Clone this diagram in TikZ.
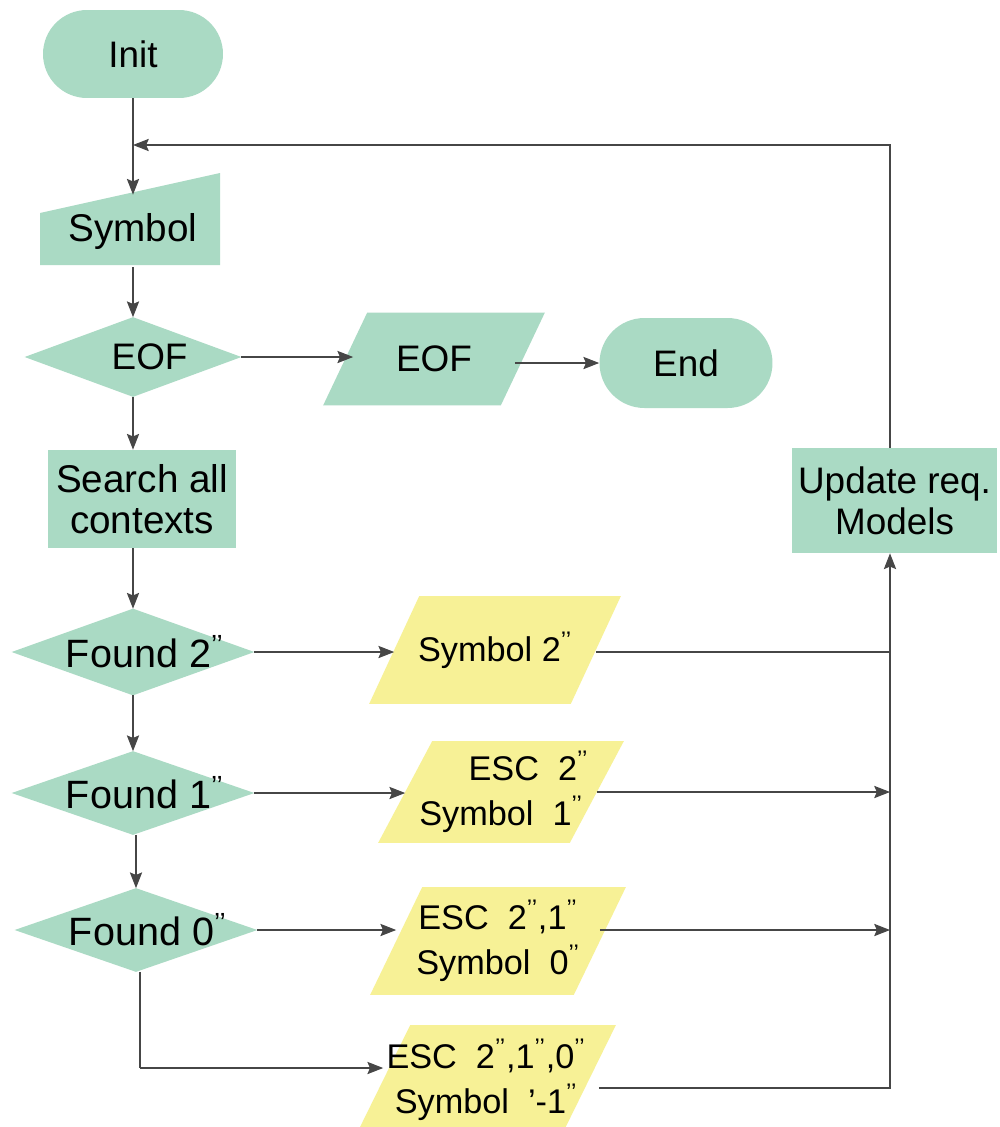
\documentclass[tikz,border=0pt]{standalone}
\usepackage{fontspec}
\setmainfont{Liberation Sans}
\usetikzlibrary{shapes.misc,arrows.meta,backgrounds}
\definecolor{grn}{RGB}{170,218,196}
\definecolor{yel}{RGB}{247,241,150}
\definecolor{lnc}{RGB}{70,70,70}
\newcommand\pp{\textsuperscript{'{}'}}
\begin{document}
\begin{tikzpicture}[x=0.02cm,y=-0.02cm,
  txt/.style={font=\fontsize{21}{23.5}\selectfont, inner sep=0pt, align=center},
  btxt/.style={font=\fontsize{22.5}{23.5}\selectfont, inner sep=0pt, align=center},
  ytxt/.style={font=\fontsize{19.5}{25.5}\selectfont, inner sep=0pt, align=center},
  term/.style={rounded rectangle, fill=grn, txt},
  wire/.style={draw=lnc, line width=0.6pt},
  arr/.style={wire, -{Stealth[length=9pt,width=7pt,inset=1.5pt]}}]
\clip (0,0) rectangle (1000,1127);

% ---- green column ----
\node[term, minimum width=3.6cm, minimum height=1.76cm] (init) at (133,54) {Init};
\node[txt, minimum width=3.6cm, minimum height=1.44cm] (sym) at (133,231) {\raisebox{-3pt}{\fontsize{22}{23}\selectfont Symbol}};
\node[txt, minimum width=4.32cm, minimum height=1.58cm] (eof) at (133,357) {\hspace*{0.9em}EOF};
\node[txt, fill=grn, minimum width=3.76cm, minimum height=1.96cm, font=\fontsize{22}{23.3}\selectfont] (srch) at (142,499) {Search all\\contexts};
\node[btxt, minimum width=4.84cm, minimum height=1.72cm] (f2) at (133,652) {\hspace*{0.6em}Found 2\pp};
\node[btxt, minimum width=4.84cm, minimum height=1.66cm] (f1) at (133,793) {\hspace*{0.6em}Found 1\pp};
\node[btxt, minimum width=4.84cm, minimum height=1.66cm] (f0) at (136,930) {\hspace*{0.6em}Found 0\pp};

% ---- EOF branch ----
\node[txt, minimum width=3.54cm, minimum height=1.84cm] (eofp) at (434,359) {EOF};
\node[term, minimum width=3.46cm, minimum height=1.8cm] (end) at (686,363) {End};

% ---- yellow outputs ----
\node[ytxt, minimum width=4.02cm, minimum height=2.14cm] (s2) at (495,650) {Symbol 2\pp};
\node[ytxt, minimum width=3.82cm, minimum height=2.02cm] (s1) at (501,792) {\hspace*{1.6em}ESC\ \ 2\pp\\Symbol\ \ 1\pp};
\node[ytxt, minimum width=4.06cm, minimum height=2.14cm] (s0) at (498,941) {ESC\ \ 2\pp,1\pp\\Symbol\ \ 0\pp};
\node[ytxt, minimum width=4.1cm, minimum height=2.18cm] (sm) at (486,1080) {ESC\ \ 2\pp,1\pp,0\pp\\Symbol\ \ '-1\pp};

% ---- update ----
\node[txt, fill=grn, minimum width=4.1cm, minimum height=2.1cm] (upd) at (894.5,500.5) {Update req.\\Models};

\begin{pgfonlayer}{background}
  \fill[white] (0,0) rectangle (1000,1127);
  \fill[grn] (40,265) -- (220,265) -- (220,173) -- (40,213) -- cycle;
  \foreach \n in {eof,f2,f1,f0}
    \fill[grn] (\n.west) -- (\n.north) -- (\n.east) -- (\n.south) -- cycle;
  \fill[grn] ([xshift=-22*0.02cm]eofp.south west) -- ([xshift=-22*0.02cm]eofp.south east)
    -- ([xshift=22*0.02cm]eofp.north east) -- ([xshift=22*0.02cm]eofp.north west) -- cycle;
  \foreach \n/\d in {s2/25,s1/27,s0/26,sm/27}
    \fill[yel] ([xshift=-\d*0.02cm]\n.south west) -- ([xshift=-\d*0.02cm]\n.south east)
      -- ([xshift=\d*0.02cm]\n.north east) -- ([xshift=\d*0.02cm]\n.north west) -- cycle;
\end{pgfonlayer}

% ---- connectors ----
\coordinate (lp) at (133,145);
\coordinate (vx) at (890,652);
\coordinate (bl) at (140,1068);
\draw[arr] (init.south) -- (sym.north);
\draw[arr] (sym.south) -- (eof.north);
\draw[arr] (eof.south) -- (eof.south |- srch.north);
\draw[arr] (f2.north |- srch.south) -- (f2.north);
\draw[arr] (f2.south) -- (f1.north);
\draw[arr] (f1.south -| f0.north) -- (f0.north);
\draw[arr] (eof.east) -- ([xshift=8*0.02cm]eofp.west |- eof.east);
\draw[arr] ([xshift=-8*0.02cm]eofp.east |- end.west) -- (end.west);

\draw[arr] (f2.east) -- (f2.east -| s2.west);
\draw[arr] (f1.east) -- (f1.east -| s1.west);
\draw[arr] (f0.east) -- (f0.east -| s0.west);
\draw[wire] (f0.south -| bl) -- (bl);
\draw[arr] (bl) -- (bl -| sm.west);

\draw[arr] (s2.east |- vx) -- (vx) -- (vx |- upd.south);
\draw[arr] (s1.east) -- (s1.east -| vx);
\draw[arr] (s0.east |- 0,930) -- (vx |- 0,930);
\draw[wire] ([xshift=10*0.02cm]sm.east |- 0,1088) -- (vx |- 0,1088) -- (vx);
\draw[arr] (vx |- upd.north) -- (vx |- lp) -- (lp);
\end{tikzpicture}
\end{document}
